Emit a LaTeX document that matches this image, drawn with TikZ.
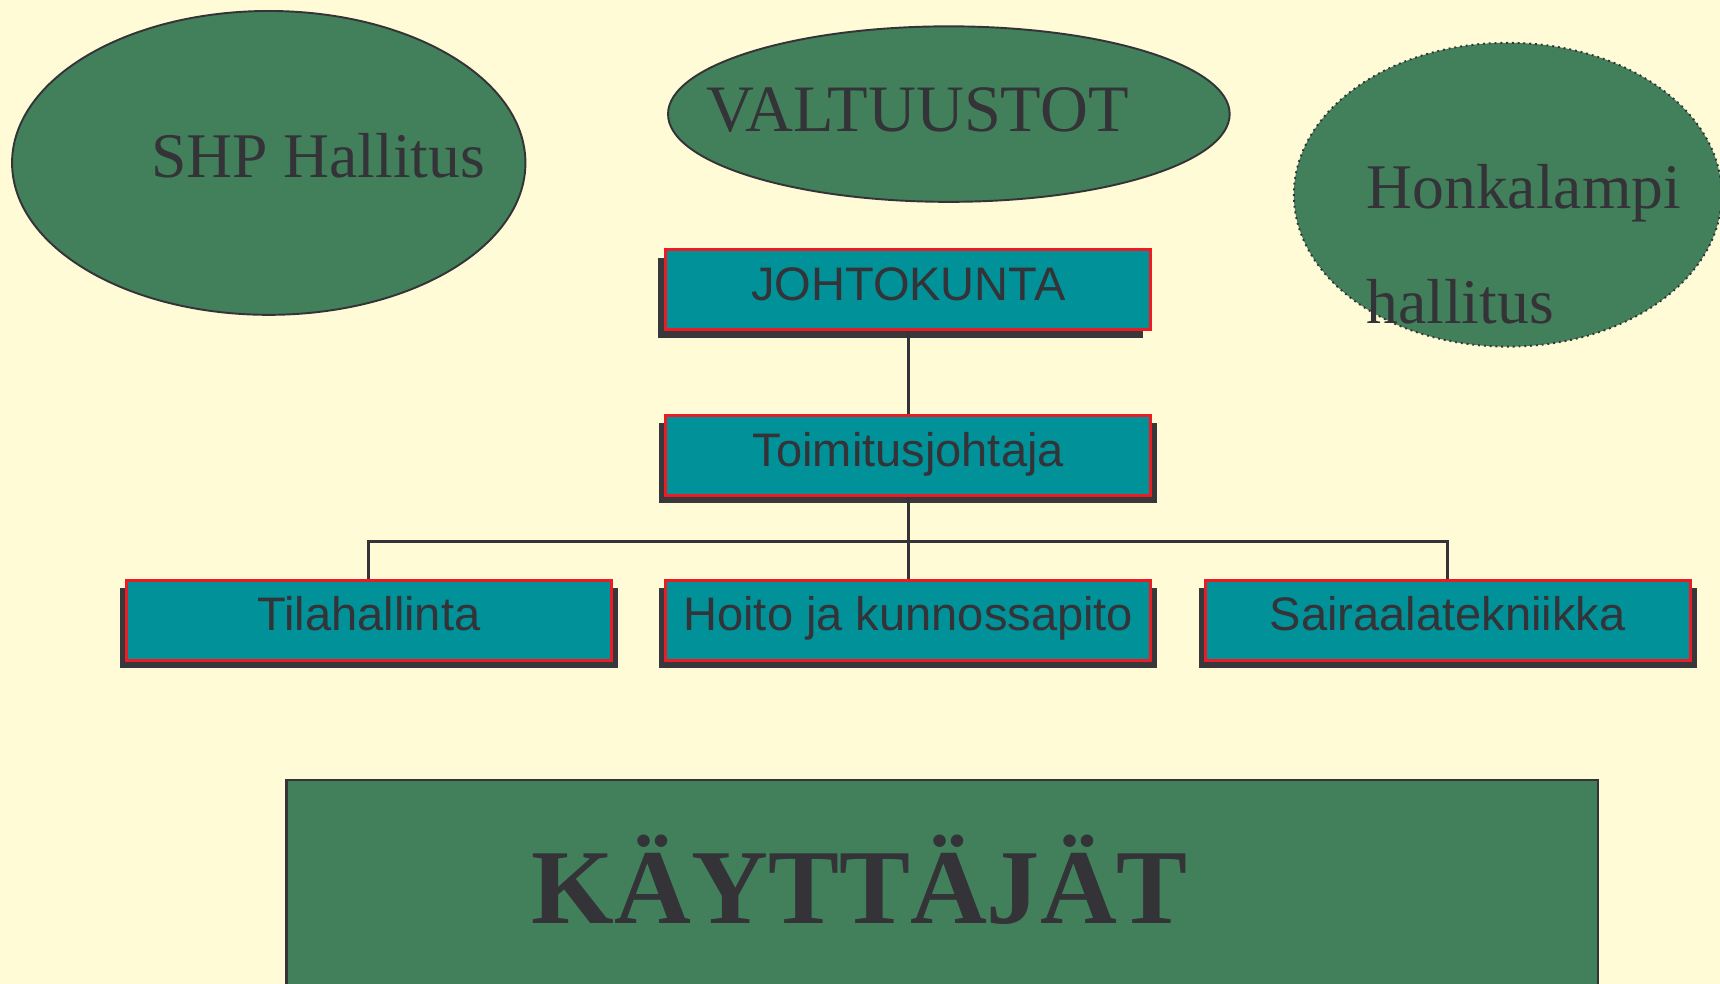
\documentclass[tikz,border=0pt]{standalone}
\usepackage{fontspec}
\setmainfont{Liberation Serif}
\setsansfont{Liberation Sans}
\usetikzlibrary{shapes,arrows,positioning,shadows}
\definecolor{cream}{RGB}{255,251,214}
\definecolor{orggreen}{RGB}{66,128,92}
\definecolor{orgteal}{RGB}{0,145,153}
\definecolor{orgred}{RGB}{237,28,36}
\definecolor{inkgray}{RGB}{51,51,56}
\definecolor{shadegray}{RGB}{56,56,60}

\begin{document}
\begin{tikzpicture}
            % Tyylit
            \tikzstyle{board}=[ellipse, draw=inkgray, line width=0.5pt, fill=orggreen, inner sep=0pt]
            \tikzstyle{boardtext}=[anchor=base west, inner sep=0pt, text=inkgray, font=\fontsize{16.5}{18}\selectfont]
            \tikzstyle{unit}=[draw=orgred, line width=0.8pt, fill=orgteal, rectangle, minimum width=4.42cm, inner sep=0pt, text height=0.46cm, text depth=0.27cm, text=inkgray, font=\sffamily\fontsize{12.2}{14}\selectfont]
            \tikzstyle{sideshade}=[drop shadow={shadow xshift=-0.06cm, shadow yshift=-0.065cm, fill=shadegray, opacity=1}, drop shadow={shadow xshift=0.06cm, shadow yshift=-0.065cm, fill=shadegray, opacity=1}]
            \tikzstyle{link}=[draw=inkgray, line width=0.8pt]

            % Tausta
            \fill[cream] (0,0) rectangle (15.68,-8.97);
            \useasboundingbox (0,0) rectangle (15.68,-8.97);

            % Hallinnot
            \node[board, minimum width=4.68cm, minimum height=2.77cm] (shp) at (2.45,-1.485) {};
            \node[boardtext] (shptext) at (1.37,-1.62) {SHP Hallitus};
            \node[board, minimum width=5.12cm, minimum height=1.60cm] (valt) at (8.65,-1.04) {};
            \node[boardtext, font=\fontsize{17.2}{18}\selectfont] (valttext) at (6.43,-1.20) {VALTUUSTOT};
            \node[board, densely dotted, minimum width=3.90cm, minimum height=2.77cm] (honk) at (13.745,-1.775) {};
            \node[boardtext] (honktext) at (12.45,-1.90) {Honkalampi};
            \node[boardtext] (hallitustext) at (12.45,-2.95) {hallitus};

            % Solmut
            \node[unit, drop shadow={shadow xshift=-0.07cm, shadow yshift=-0.08cm, fill=shadegray, opacity=1}] (johto) at (8.28,-2.64) {JOHTOKUNTA};
            \node[unit, sideshade, below=0.755cm of johto] (toim) {Toimitusjohtaja};
            \node[unit, sideshade, below=0.745cm of toim] (hoito) {Hoito ja kunnossapito};
            \node[unit, sideshade, left=0.47cm of hoito] (tila) {Tilahallinta};
            \node[unit, sideshade, right=0.47cm of hoito] (sair) {Sairaalatekniikka};

            % Viivat
            \draw[link] (johto.south) -- (toim.north);
            \draw[link] (toim.south) -- ++(0,-0.40) coordinate (fork);
            \draw[link] (fork) -| (tila.north);
            \draw[link] (fork) -| (sair.north);
            \draw[link] (fork) -- (hoito.north);

            % Kayttajat
            \node[draw=inkgray, line width=0.6pt, fill=orggreen, minimum width=11.96cm, minimum height=2.0cm, anchor=north west, inner sep=0pt] (users) at (2.60,-7.10) {};
            \node[anchor=base west, inner sep=0pt, text=inkgray, font=\bfseries\fontsize{27.6}{30}\selectfont] (userstext) at (4.84,-8.42) {KÄYTTÄJÄT};
      \end{tikzpicture}
\end{document}
